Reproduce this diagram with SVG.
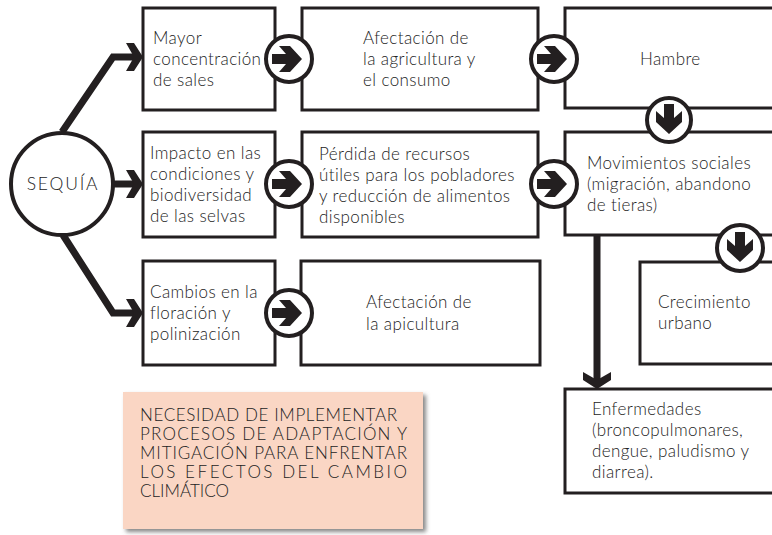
<svg xmlns="http://www.w3.org/2000/svg" width="772" height="535" viewBox="0 0 772 535">
<style>
.box{fill:#fff;stroke:#231f20;stroke-width:3}
.cir{fill:#fff;stroke:#231f20;stroke-width:4}
.t{font-family:Lato,"Open Sans",sans-serif;font-size:17px;font-weight:300;letter-spacing:0.4px;fill:#232323}
.p{font-family:Lato,"Open Sans",sans-serif;font-size:17px;font-weight:300;fill:#232323}
.con{fill:none;stroke:#231f20;stroke-width:7;stroke-linejoin:miter}
.ar{fill:#231f20}
</style>
<defs>
<path id="chev" d="M-15,-14 L-7,-14 L2,0 L-7,14 L-15,14 L-7,0 Z"/>
<path id="arr" d="M-17,-5 H-3 L-10,-13 H1 L13,0 L1,13 H-10 L-3,5 H-17 Z"/>
<filter id="sh" x="-10%" y="-10%" width="125%" height="130%">
<feDropShadow dx="3" dy="3" stdDeviation="2" flood-color="#555" flood-opacity="0.7"/>
</filter>
</defs>
<g id="connectors">
<path class="con" d="M62,132 L113,57 H134"/>
<path class="con" d="M114,184 H134"/>
<path class="con" d="M63,235 L113,313 H134"/>
<path class="con" d="M597,235 V380"/>
<use href="#chev" class="ar" transform="translate(141,57)"/>
<use href="#chev" class="ar" transform="translate(141,184)"/>
<use href="#chev" class="ar" transform="translate(141,313)"/>
<use href="#chev" class="ar" transform="translate(597,387) rotate(90)"/>
</g>
<g id="sequia">
<circle class="cir" cx="62" cy="184" r="51"/>
<text class="t" x="63" y="190" text-anchor="middle" style="font-size:17.5px;letter-spacing:1.8px">SEQUÍA</text>
</g>
<g id="n-sales">
<rect class="box" x="143" y="8" width="132" height="102"/>
<text class="t" x="153" y="44">Mayor</text>
<text class="t" x="153" y="65">concentración</text>
<text class="t" x="153" y="86">de sales</text>
</g>
<g id="n-impacto">
<rect class="box" x="143" y="132" width="132" height="105"/>
<text class="t" x="150" y="159">Impacto en las</text>
<text class="t" x="150" y="180">condiciones y</text>
<text class="t" x="150" y="201">biodiversidad</text>
<text class="t" x="150" y="222">de las selvas</text>
</g>
<g id="n-cambios">
<rect class="box" x="143" y="261" width="132" height="104"/>
<text class="t" x="150" y="298">Cambios en la</text>
<text class="t" x="150" y="319">floración y</text>
<text class="t" x="150" y="340">polinización</text>
</g>
<g id="n-agricultura">
<rect class="box" x="302" y="8" width="236" height="102"/>
<text class="t" x="363" y="44">Afectación de</text>
<text class="t" x="363" y="65">la agricultura y</text>
<text class="t" x="363" y="86">el consumo</text>
</g>
<g id="n-perdida">
<rect class="box" x="302" y="132" width="236" height="105"/>
<text class="t" x="319" y="160">Pérdida de recursos</text>
<text class="t" x="319" y="181">útiles para los pobladores</text>
<text class="t" x="319" y="202">y reducción de alimentos</text>
<text class="t" x="319" y="223">disponibles</text>
</g>
<g id="n-apicultura">
<rect class="box" x="301" y="261" width="239" height="104"/>
<text class="t" x="366" y="308">Afectación de</text>
<text class="t" x="366" y="330">la apicultura</text>
</g>
<g id="n-hambre">
<rect class="box" x="565" y="8" width="220" height="100"/>
<text class="t" x="640" y="65">Hambre</text>
</g>
<g id="n-movimientos">
<rect class="box" x="565" y="132" width="220" height="103"/>
<text class="t" x="587" y="169">Movimientos sociales</text>
<text class="t" x="587" y="190">(migración, abandono</text>
<text class="t" x="587" y="211">de tieras)</text>
</g>
<g id="n-crecimiento">
<rect class="box" x="640" y="262" width="145" height="102"/>
<text class="t" x="658" y="308">Crecimiento</text>
<text class="t" x="658" y="329">urbano</text>
</g>
<g id="n-enfermedades">
<rect class="box" x="565" y="389" width="220" height="104"/>
<text class="t" x="592" y="415">Enfermedades</text>
<text class="t" x="592" y="436">(broncopulmonares,</text>
<text class="t" x="592" y="457">dengue, paludismo y</text>
<text class="t" x="592" y="478">diarrea).</text>
</g>
<g id="circles">
<circle class="cir" cx="289" cy="59" r="23"/>
<use href="#arr" class="ar" transform="translate(289,59)"/>
<circle class="cir" cx="554" cy="59" r="23"/>
<use href="#arr" class="ar" transform="translate(554,59)"/>
<circle class="cir" cx="289" cy="184" r="23"/>
<use href="#arr" class="ar" transform="translate(289,184)"/>
<circle class="cir" cx="554" cy="184" r="23"/>
<use href="#arr" class="ar" transform="translate(554,184)"/>
<circle class="cir" cx="289" cy="313" r="23"/>
<use href="#arr" class="ar" transform="translate(289,313)"/>
<circle class="cir" cx="669" cy="120" r="22"/>
<use href="#arr" class="ar" transform="translate(669,121) rotate(90)"/>
<circle class="cir" cx="740" cy="248" r="23"/>
<use href="#arr" class="ar" transform="translate(740,249) rotate(90)"/>
</g>
<g id="n-necesidad">
<rect x="123" y="392" width="300" height="137" fill="#fad6c4" filter="url(#sh)"/>
<text class="p" x="140" y="421" textLength="257" lengthAdjust="spacing">NECESIDAD DE IMPLEMENTAR</text>
<text class="p" x="140" y="440" textLength="267" lengthAdjust="spacing">PROCESOS DE ADAPTACIÓN Y</text>
<text class="p" x="140" y="459" textLength="267" lengthAdjust="spacing">MITIGACIÓN PARA ENFRENTAR</text>
<text class="p" x="140" y="478" textLength="267" lengthAdjust="spacing">LOS EFECTOS DEL CAMBIO</text>
<text class="p" x="140" y="497">CLIMÁTICO</text>
</g>
</svg>
